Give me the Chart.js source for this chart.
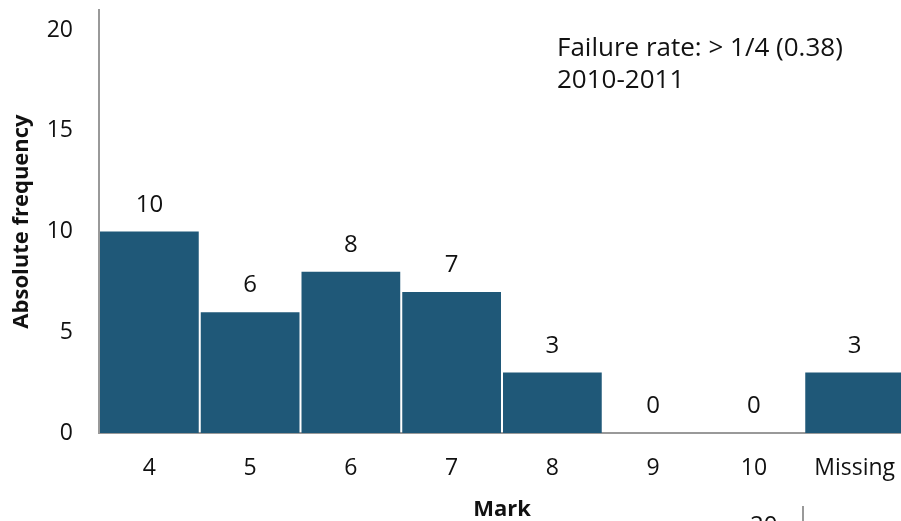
<!DOCTYPE html>
<html>
<head>
<meta charset="utf-8">
<script src="https://cdn.jsdelivr.net/npm/chart.js@4/dist/chart.umd.min.js"></script>
<style>
  html, body { margin: 0; padding: 0; background: #fff; overflow: hidden; }
  #box { position: relative; width: 905px; height: 521px; }
</style>
</head>
<body>
<div id="box"><canvas id="graphique"></canvas></div>
<script>
const marks = ['4', '5', '6', '7', '8', '9', '10', 'Missing']
const frequencies = [10, 6, 8, 7, 3, 0, 0, 3]
const yTicks = [0, 5, 10, 15, 20]
const noteLines = ['Failure rate: > 1/4 (0.38)', '2010-2011']

const police = '"Open Sans", Lato, sans-serif'
const couleurBarre = '#1f5878'
const couleurAxe = '#999999'

// valeurs au-dessus des barres
const etiquettes = {
  id: 'etiquettes',
  afterDatasetsDraw(chart) {
    const ctx = chart.ctx
    const meta = chart.getDatasetMeta(0)
    ctx.save()
    ctx.font = '24px ' + police
    ctx.fillStyle = '#111'
    ctx.textAlign = 'center'
    ctx.textBaseline = 'alphabetic'
    meta.data.forEach((bar, i) => {
      ctx.fillText(String(frequencies[i]), bar.x, bar.y - 20)
    })
    ctx.restore()
  }
}

// texte de la note en haut a droite + bout de l'autre graphique en bas
const note = {
  id: 'note',
  afterDraw(chart) {
    const ctx = chart.ctx
    ctx.save()
    ctx.font = '26px ' + police
    ctx.fillStyle = '#111'
    ctx.textAlign = 'left'
    ctx.textBaseline = 'alphabetic'
    ctx.fillText(noteLines[0], 557, 56)
    ctx.fillText(noteLines[1], 557, 88)
    ctx.font = '24px ' + police
    ctx.fillText('20', 750, 533)
    ctx.strokeStyle = couleurAxe
    ctx.lineWidth = 2
    ctx.beginPath()
    ctx.moveTo(803, 506)
    ctx.lineTo(803, 521)
    ctx.stroke()
    ctx.restore()
  }
}

new Chart(document.getElementById('graphique'), {
  type: 'bar',
  data: {
    labels: marks,
    datasets: [{
      data: frequencies,
      backgroundColor: couleurBarre,
      barPercentage: 0.98,
      categoryPercentage: 1
    }]
  },
  options: {
    responsive: true,
    maintainAspectRatio: false,
    animation: false,
    layout: { padding: { top: 10, right: 0, left: 0, bottom: 0 } },
    plugins: { legend: { display: false }, tooltip: { enabled: false } },
    scales: {
      x: {
        grid: { display: false, drawTicks: false },
        border: { display: true, color: couleurAxe, width: 2 },
        ticks: { color: '#111', font: { family: police, size: 23 }, padding: 22, maxRotation: 0 },
        title: { display: true, text: 'Mark', color: '#111', font: { family: police, size: 22, weight: 'bold' }, padding: { top: 0, bottom: -2 } },
        afterFit(s) { s.height = 88; s.paddingLeft = 0; s.paddingRight = 0 }
      },
      y: {
        min: 0,
        max: 21,
        grid: { display: false, drawTicks: false },
        border: { display: true, color: couleurAxe, width: 2 },
        ticks: { color: '#111', font: { family: police, size: 23 }, padding: 26 },
        afterBuildTicks(s) { s.ticks = yTicks.map(v => ({ value: v })) },
        title: { display: true, text: 'Absolute frequency', color: '#111', font: { family: police, size: 22, weight: 'bold' }, padding: { top: 9, bottom: 0 } },
        afterFit(s) { s.width = 99; s.paddingTop = 0; s.paddingBottom = 0 }
      }
    }
  },
  plugins: [etiquettes, note]
})
</script>
</body>
</html>
